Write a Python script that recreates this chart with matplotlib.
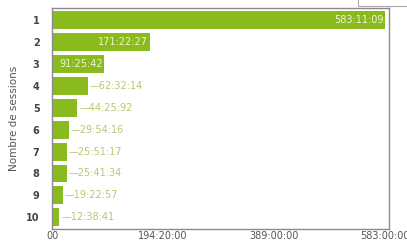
import matplotlib
matplotlib.use("Agg")

import matplotlib.pyplot as plt
from matplotlib.patches import Rectangle

# -------------------------------------------------
# DATA
# -------------------------------------------------
sessions = [1, 2, 3, 4, 5, 6, 7, 8, 9, 10]
durations = ["583:11:09", "171:22:27", "91:25:42", "62:32:14", "44:25:92",
             "29:54:16", "25:51:17", "25:41:34", "19:22:57", "12:38:41"]
x_ticks_h = [0, 194.333, 388.667, 583]
x_tick_labels = ["00", "194:20:00", "389:00:00", "583:00:00"]


def to_hours(s):
    h, m, sec = [int(p) for p in s.split(":")]
    return h + m / 60 + sec / 3600


hours = [to_hours(d) for d in durations]

bar_color = "#8aba1e"
label_inside = "#eef5d8"
label_outside = "#b8c870"

fig = plt.figure(figsize=(4.07, 2.44), dpi=100)
ax = fig.add_axes([0.128, 0.06, 0.828, 0.907])

ax.barh(sessions, hours, height=0.82, color=bar_color, edgecolor="none")

for s, h, d in zip(sessions, hours, durations):
    if h > 80:
        ax.text(h - 3, s, d, ha="right", va="center", fontsize=7,
                color=label_inside)
    else:
        ax.text(h + 3, s, "\u2014" + d, ha="left", va="center", fontsize=7,
                color=label_outside)

ax.set_xlim(0, 590)
ax.set_ylim(10.55, 0.45)
ax.set_yticks(sessions)
ax.set_yticklabels([str(s) for s in sessions], fontsize=7,
                   fontweight="bold", color="#444444")
ax.set_xticks(x_ticks_h)
ax.set_xticklabels(x_tick_labels, fontsize=7, color="#555555")
ax.tick_params(length=0)
ax.tick_params(axis="x", pad=1.5)
ax.tick_params(axis="y", pad=9)
ax.set_ylabel("Nombre de sessions", fontsize=7.5, color="#555555", labelpad=5)

for side in ["top", "right", "bottom", "left"]:
    ax.spines[side].set_color("#8a8a8a")
    ax.spines[side].set_linewidth(1.0)

# little box cut off in the top right corner
fig.patches.append(Rectangle((0.88, 0.975), 0.13, 0.04, transform=fig.transFigure,
                             fill=False, edgecolor="#aaaaaa", linewidth=0.8))

fig.savefig("out.png", dpi=100)
